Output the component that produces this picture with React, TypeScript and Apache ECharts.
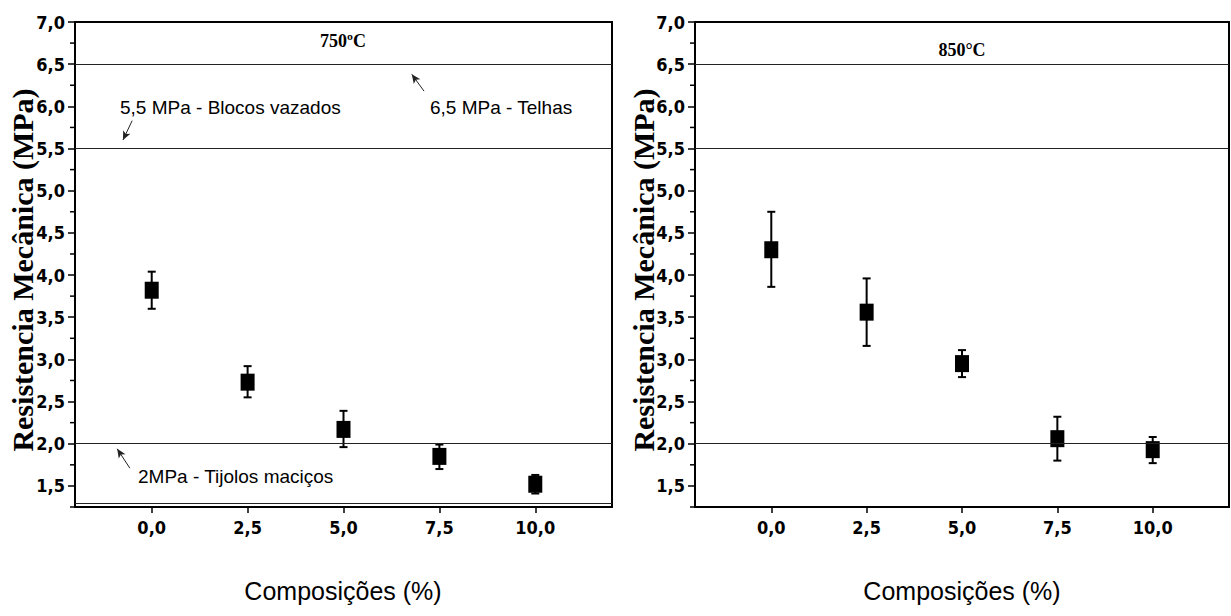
import React, { useEffect, useRef } from "react";
import * as echarts from "echarts";

const compositions = [0, 2.5, 5, 7.5, 10];
const mean750 = [3.82, 2.73, 2.17, 1.85, 1.52];
const low750 = [3.6, 2.55, 1.96, 1.7, 1.41];
const high750 = [4.04, 2.92, 2.39, 1.99, 1.63];
const mean850 = [4.3, 3.56, 2.95, 2.06, 1.93];
const low850 = [3.86, 3.16, 2.79, 1.8, 1.77];
const high850 = [4.75, 3.96, 3.11, 2.32, 2.08];
const refLines750 = [6.5, 5.5, 2.0, 1.3];
const refLines850 = [6.5, 5.5, 2.0];
const yMajorTicks = [1.5, 2.0, 2.5, 3.0, 3.5, 4.0, 4.5, 5.0, 5.5, 6.0, 6.5, 7.0];
const yMinorTicks = [1.25, 1.75, 2.25, 2.75, 3.25, 3.75, 4.25, 4.75, 5.25, 5.75, 6.25, 6.75];
const xTicks = [0, 2.5, 5, 7.5, 10];

const tickFont = "'DejaVu Sans Condensed', 'Liberation Sans', sans-serif";
const fmt = (v: number) => v.toFixed(1).replace(".", ",");

function xAxisFor(gridIndex: number) {
  return {
    type: "value",
    gridIndex,
    min: -2,
    max: 12,
    axisLine: { show: true, onZero: false, lineStyle: { color: "#000", width: 2 } },
    axisTick: { show: true, customValues: xTicks, length: 6, lineStyle: { color: "#000", width: 1.5 } },
    axisLabel: {
      show: true,
      customValues: xTicks,
      formatter: fmt,
      color: "#000",
      fontFamily: tickFont,
      fontWeight: "bold",
      fontSize: 18,
      margin: 11,
    },
    splitLine: { show: false },
  };
}

function yAxisFor(gridIndex: number) {
  return {
    type: "value",
    gridIndex,
    min: 1.25,
    max: 7,
    axisLine: { show: true, onZero: false, lineStyle: { color: "#000", width: 2 } },
    axisTick: { show: true, customValues: yMajorTicks, length: 7, lineStyle: { color: "#000", width: 1.5 } },
    axisLabel: {
      show: true,
      customValues: yMajorTicks,
      formatter: fmt,
      color: "#000",
      fontFamily: tickFont,
      fontWeight: "bold",
      fontSize: 18,
      margin: 10,
    },
    splitLine: { show: false },
  };
}

function minorTickSeries(idx: number) {
  return {
    type: "custom",
    xAxisIndex: idx,
    yAxisIndex: idx,
    clip: false,
    silent: true,
    z: 5,
    data: yMinorTicks.map((v) => [-2, v]),
    renderItem: (params: any, api: any) => {
      const p = api.coord([api.value(0), api.value(1)]);
      return {
        type: "line",
        shape: { x1: p[0] - 5, y1: p[1], x2: p[0], y2: p[1] },
        style: { stroke: "#000", lineWidth: 1.5 },
      };
    },
  };
}

function errorSeries(idx: number, lows: number[], highs: number[]) {
  return {
    type: "custom",
    xAxisIndex: idx,
    yAxisIndex: idx,
    z: 3,
    data: compositions.map((c, i) => [c, lows[i], highs[i]]),
    renderItem: (params: any, api: any) => {
      const lo = api.coord([api.value(0), api.value(1)]);
      const hi = api.coord([api.value(0), api.value(2)]);
      const hw = 4;
      const style = { stroke: "#000", lineWidth: 2 };
      return {
        type: "group",
        children: [
          { type: "line", shape: { x1: lo[0], y1: lo[1], x2: hi[0], y2: hi[1] }, style },
          { type: "line", shape: { x1: lo[0] - hw, y1: lo[1], x2: lo[0] + hw, y2: lo[1] }, style },
          { type: "line", shape: { x1: hi[0] - hw, y1: hi[1], x2: hi[0] + hw, y2: hi[1] }, style },
        ],
      };
    },
  };
}

function meanSeries(idx: number, means: number[], refs: number[], arrows: any[]) {
  return {
    type: "scatter",
    xAxisIndex: idx,
    yAxisIndex: idx,
    z: 4,
    symbol: "rect",
    symbolSize: [14, 17],
    itemStyle: { color: "#000", opacity: 1 },
    data: compositions.map((c, i) => [c, means[i]]),
    markLine: {
      silent: true,
      symbol: ["none", "none"],
      label: { show: false },
      lineStyle: { color: "#222", width: 1, type: "solid" },
      data: [
        ...refs.map((r) => ({ yAxis: r })),
        ...arrows.map((a) => [
          { coord: a[0], symbol: "none" },
          { coord: a[1], symbol: "arrow", symbolSize: [6, 9] },
        ]),
      ],
    },
  };
}

const arrows750 = [
  [[-0.51, 5.83], [-0.75, 5.6]],
  [[7.1, 6.18], [6.78, 6.38]],
  [[-0.57, 1.71], [-0.9, 1.94]],
];

export default function App() {
  const ref = useRef<HTMLDivElement>(null);
  useEffect(() => {
    if (!ref.current) return;
    const chart = echarts.init(ref.current, null, { renderer: "svg" });
    const serif = "'Liberation Serif', 'Times New Roman', serif";
    const sans = "'Liberation Sans', Arial, sans-serif";
    chart.setOption({
      animation: false,
      backgroundColor: "#fff",
      grid: [
        { left: 75, right: 619, top: 22, bottom: 109, show: true, borderColor: "#000", borderWidth: 2, backgroundColor: "transparent" },
        { left: 695, right: 2, top: 22, bottom: 109, show: true, borderColor: "#000", borderWidth: 2, backgroundColor: "transparent" },
      ],
      xAxis: [xAxisFor(0), xAxisFor(1)],
      yAxis: [yAxisFor(0), yAxisFor(1)],
      series: [
        errorSeries(0, low750, high750),
        meanSeries(0, mean750, refLines750, arrows750),
        minorTickSeries(0),
        errorSeries(1, low850, high850),
        meanSeries(1, mean850, refLines850, []),
        minorTickSeries(1),
      ],
      graphic: [
        { type: "text", x: 343, y: 41, style: { text: "750ºC", font: `bold 18px ${serif}`, fill: "#000", align: "center", verticalAlign: "middle" } },
        { type: "text", x: 962, y: 50, style: { text: "850°C", font: `bold 18px ${serif}`, fill: "#000", align: "center", verticalAlign: "middle" } },
        { type: "text", x: 120, y: 107, style: { text: "5,5 MPa - Blocos vazados", font: `19px ${sans}`, fill: "#000", align: "left", verticalAlign: "middle" } },
        { type: "text", x: 430, y: 107, style: { text: "6,5 MPa - Telhas", font: `19px ${sans}`, fill: "#000", align: "left", verticalAlign: "middle" } },
        { type: "text", x: 138, y: 476, style: { text: "2MPa - Tijolos maciços", font: `19px ${sans}`, fill: "#000", align: "left", verticalAlign: "middle" } },
        { type: "text", x: 22, y: 270, rotation: Math.PI / 2, style: { text: "Resistencia Mecânica (MPa)", font: `bold 30px ${serif}`, fill: "#000", align: "center", verticalAlign: "middle" } },
        { type: "text", x: 643, y: 270, rotation: Math.PI / 2, style: { text: "Resistencia Mecânica (MPa)", font: `bold 30px ${serif}`, fill: "#000", align: "center", verticalAlign: "middle" } },
        { type: "text", x: 343, y: 591, style: { text: "Composições (%)", font: `25px ${sans}`, fill: "#000", align: "center", verticalAlign: "middle" } },
        { type: "text", x: 962, y: 591, style: { text: "Composições (%)", font: `25px ${sans}`, fill: "#000", align: "center", verticalAlign: "middle" } },
      ],
    });
    return () => chart.dispose();
  }, []);
  return <div ref={ref} style={{ position: "fixed", left: 0, top: 0, width: 1231, height: 616 }} />;
}
